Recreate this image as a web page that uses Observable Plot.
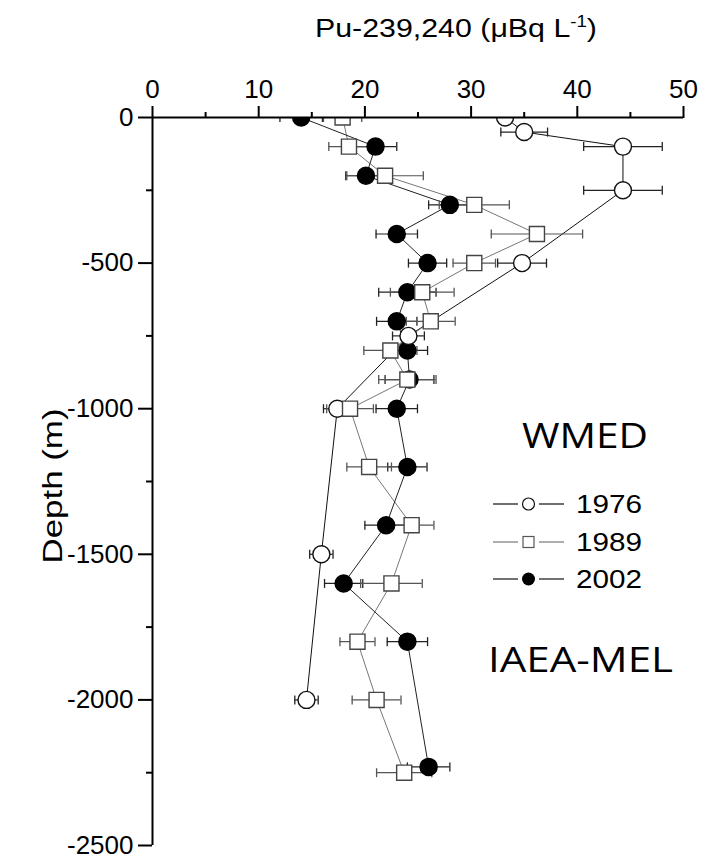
<!DOCTYPE html>
<html>
<head>
<meta charset="utf-8">
<script src="https://cdn.jsdelivr.net/npm/d3@7"></script>
<script src="https://cdn.jsdelivr.net/npm/@observablehq/plot@0.6"></script>
<style>
  html, body { margin: 0; padding: 0; background: #fff; }
  #chart { width: 701px; height: 861px; }
</style>
</head>
<body>
<div id="chart"></div>
<script>
// ---- data ----
const depth1976 = [0, -50, -100, -250, -500, -750, -1000, -1500, -2000];
const pu1976    = [33.2, 35.0, 44.3, 44.3, 34.8, 24.1, 17.4, 15.9, 14.5];
const err1976   = [null, 2.2, 3.7, 3.7, 2.3, 1.5, 1.3, 1.1, 1.1];

const depth1989 = [0, -100, -200, -300, -400, -500, -600, -700, -800, -900, -1000, -1200, -1400, -1600, -1800, -2000, -2250];
const pu1989    = [17.9, 18.5, 21.9, 30.3, 36.2, 30.3, 25.4, 26.2, 22.4, 24.0, 18.6, 20.4, 24.4, 22.5, 19.3, 21.1, 23.7];
const err1989   = [1.8, 1.9, 3.6, 3.3, 4.3, 2.0, 3.0, 2.3, 2.5, 2.7, 2.2, 2.1, 2.1, 2.9, 1.65, 2.3, 2.6];

const depth2002 = [0, -100, -200, -300, -400, -500, -600, -700, -800, -900, -1000, -1200, -1400, -1600, -1800, -2230];
const pu2002    = [14.0, 21.0, 20.1, 28.0, 23.0, 25.9, 24.0, 23.0, 24.0, 24.2, 23.0, 24.0, 22.0, 18.0, 24.0, 26.0];
const err2002   = [2.0, 2.0, 1.9, 2.0, 1.95, 1.8, 2.7, 1.9, 1.9, 2.3, 1.95, 1.85, 2.0, 1.8, 1.9, 2.0];

const xTicks = [0, 10, 20, 30, 40, 50];
const xMinor = [5, 15, 25, 35, 45];
const yTicks = [0, -500, -1000, -1500, -2000, -2500];
const yMinor = [-250, -750, -1250, -1750, -2250];

const years = ["1976", "1989", "2002"];
const xTitle = "Pu-239,240 (\u03BCBq L";
const xTitleSup = "-1";
const yTitle = "Depth (m)";
const regionLabel = "WMED";
const labLabel = "IAEA-MEL";

// ---- build tables ----
const rows = (d, p, e) => d.map((v, i) => ({depth: v, pu: p[i], err: e[i]}));
const s1976 = rows(depth1976, pu1976, err1976);
const s1989 = rows(depth1989, pu1989, err1989);
const s2002 = rows(depth2002, pu2002, err2002);

const vbar = {
  draw(ctx, size) {
    const h = Math.sqrt(size / Math.PI);
    ctx.moveTo(0, -h);
    ctx.lineTo(0, h);
  }
};

function errMarks(data, color) {
  const e = data.filter(d => d.err != null);
  return [
    Plot.ruleY(e, {y: "depth", x1: d => d.pu - d.err, x2: d => d.pu + d.err, stroke: color, strokeWidth: 1.2, clip: true}),
    Plot.dot(e, {x: d => d.pu - d.err, y: "depth", symbol: vbar, r: 4.5, fill: "none", stroke: color, strokeWidth: 1.3, clip: true}),
    Plot.dot(e, {x: d => d.pu + d.err, y: "depth", symbol: vbar, r: 4.5, fill: "none", stroke: color, strokeWidth: 1.3, clip: true})
  ];
}

const chart = Plot.plot({
  width: 701,
  height: 861,
  marginLeft: 152,
  marginRight: 18,
  marginTop: 117,
  marginBottom: 16,
  style: {fontFamily: "Liberation Sans, Arial, sans-serif", fontSize: "26px", color: "black", background: "white"},
  x: {domain: [0, 50]},
  y: {domain: [-2500, 0]},
  marks: [
    Plot.axisX(xTicks, {anchor: "top", tickSize: 12, tickPadding: 8, strokeWidth: 2, label: null, tickFormat: d => String(d), fontSize: 26}),
    Plot.axisX(xMinor, {anchor: "top", tickSize: 6, strokeWidth: 2, label: null, tickFormat: () => ""}),
    Plot.axisY(yTicks, {anchor: "left", tickSize: 14, tickPadding: 5, strokeWidth: 2, label: null, tickFormat: d => String(d), fontSize: 26}),
    Plot.axisY(yMinor, {anchor: "left", tickSize: 6, strokeWidth: 2, label: null, tickFormat: () => ""}),
    Plot.line(s1976, {x: "pu", y: "depth", stroke: "#111", strokeWidth: 1}),
    Plot.line(s1989, {x: "pu", y: "depth", stroke: "#777", strokeWidth: 1}),
    Plot.line(s2002, {x: "pu", y: "depth", stroke: "#222", strokeWidth: 1}),
    ...errMarks(s2002, "#222"),
    ...errMarks(s1976, "#222"),
    ...errMarks(s1989, "#555"),
    Plot.dot(s2002, {x: "pu", y: "depth", r: 8.5, fill: "black", stroke: "black", clip: true}),
    Plot.dot(s1976, {x: "pu", y: "depth", r: 8.5, fill: "white", stroke: "#111", strokeWidth: 1.4, clip: true}),
    Plot.dot(s1989, {x: "pu", y: "depth", symbol: "square", r: 8.5, fill: "white", stroke: "#444", strokeWidth: 1.4, clip: true}),
    Plot.ruleY([0], {stroke: "black", strokeWidth: 2}),
    Plot.ruleX([0], {stroke: "black", strokeWidth: 2})
  ]
});

document.getElementById("chart").appendChild(chart);

// ---- titles, legend, annotations ----
const svg = d3.select(chart);
const t = svg.append("text")
  .attr("x", 315).attr("y", 37)
  .attr("text-anchor", "start")
  .attr("font-family", "Liberation Sans, Arial, sans-serif")
  .attr("font-size", 26)
  .attr("fill", "black")
  .attr("textLength", 282).attr("lengthAdjust", "spacingAndGlyphs");
t.append("tspan").text(xTitle);
t.append("tspan").attr("font-size", 16).attr("dy", -10).text(xTitleSup);
t.append("tspan").attr("dy", 10).text(")");

svg.append("text")
  .attr("transform", "translate(62,486) rotate(-90)")
  .attr("text-anchor", "middle")
  .attr("font-family", "Liberation Sans, Arial, sans-serif")
  .attr("font-size", 27)
  .attr("fill", "black")
  .attr("textLength", 155).attr("lengthAdjust", "spacingAndGlyphs")
  .text(yTitle);

svg.append("text")
  .attr("x", 522).attr("y", 448)
  .attr("text-anchor", "start")
  .attr("font-family", "Open Sans, sans-serif")
  .attr("font-size", 35)
  .attr("fill", "black")
  .attr("textLength", 126).attr("lengthAdjust", "spacingAndGlyphs")
  .text(regionLabel);

svg.append("text")
  .attr("x", 488).attr("y", 672)
  .attr("text-anchor", "start")
  .attr("font-family", "Open Sans, sans-serif")
  .attr("font-size", 35)
  .attr("fill", "black")
  .attr("textLength", 185).attr("lengthAdjust", "spacingAndGlyphs")
  .text(labLabel);

const legendY = [504, 542, 579];
const legendLine = ["#111", "#777", "#111"];
years.forEach((yr, i) => {
  const g = svg.append("g").attr("transform", `translate(0,${legendY[i]})`);
  g.append("line").attr("x1", 493).attr("x2", 518).attr("stroke", legendLine[i]).attr("stroke-width", 1.2);
  g.append("line").attr("x1", 539).attr("x2", 564).attr("stroke", legendLine[i]).attr("stroke-width", 1.2);
  if (i === 0) g.append("circle").attr("cx", 528.5).attr("r", 6).attr("fill", "white").attr("stroke", "#111").attr("stroke-width", 1.2);
  if (i === 1) g.append("rect").attr("x", 523).attr("y", -5.5).attr("width", 11).attr("height", 11).attr("fill", "white").attr("stroke", "#555").attr("stroke-width", 1.2);
  if (i === 2) g.append("circle").attr("cx", 528.5).attr("r", 6.5).attr("fill", "black");
  g.append("text").attr("x", 576).attr("y", 9)
    .attr("text-anchor", "start")
    .attr("font-family", "Liberation Sans, Arial, sans-serif")
    .attr("font-size", 25)
    .attr("fill", "black")
    .attr("textLength", 66).attr("lengthAdjust", "spacingAndGlyphs")
    .text(yr);
});
</script>
</body>
</html>
